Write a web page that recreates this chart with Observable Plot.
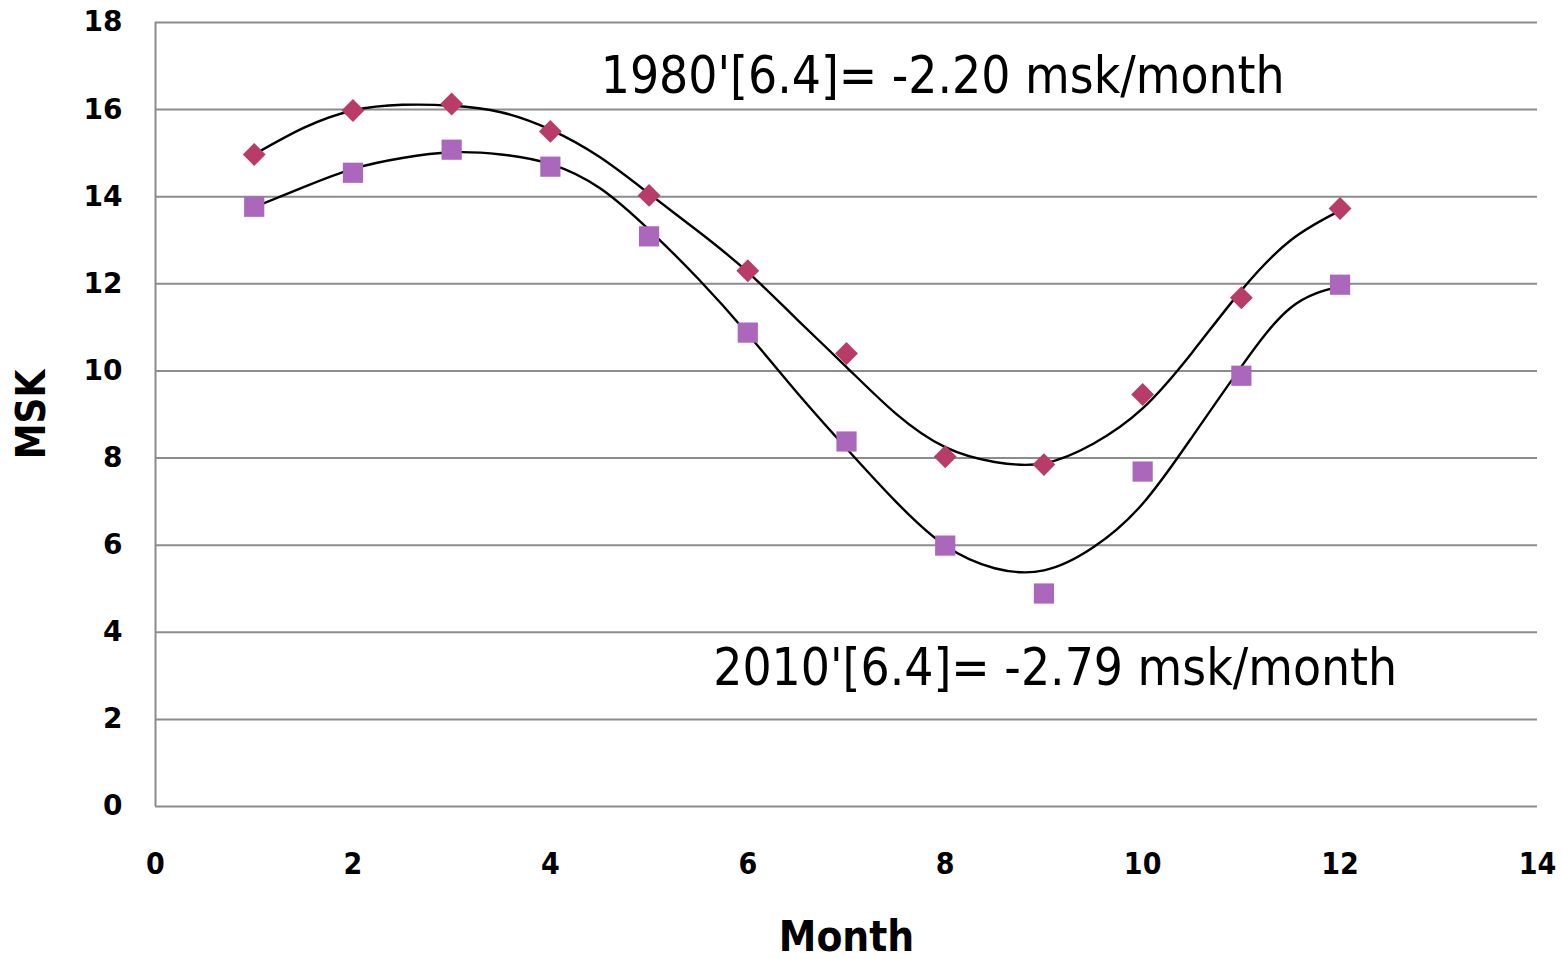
<!DOCTYPE html>
<html>
<head>
<meta charset="utf-8">
<script src="https://cdn.jsdelivr.net/npm/d3@7"></script>
<script src="https://cdn.jsdelivr.net/npm/@observablehq/plot@0.6"></script>
<style>
  html, body { margin: 0; padding: 0; background: #fff; }
  #chart svg { display: block; }
  g[aria-label="y-axis tick label"], g[aria-label="y-axis tick label"] text {
    font-family: "DejaVu Sans", sans-serif !important;
    font-weight: bold !important;
    font-size: 28px !important;
    fill: #000 !important;
  }
  g[aria-label="x-axis tick label"], g[aria-label="x-axis tick label"] text {
    font-family: "DejaVu Sans Condensed", "DejaVu Sans", sans-serif !important;
    font-weight: bold !important;
    font-size: 30px !important;
    fill: #000 !important;
  }
</style>
</head>
<body>
<div id="chart"></div>
<script>
// Months
const months = [1, 2, 3, 4, 5, 6, 7, 8, 9, 10, 11, 12];
// 1980' series (diamonds)
const msk1980 = [14.97, 15.98, 16.13, 15.5, 14.03, 12.3, 10.4, 8.03, 7.85, 9.46, 11.68, 13.73];
// 2010' series (squares)
const msk2010 = [13.77, 14.55, 15.08, 14.69, 13.09, 10.88, 8.38, 5.99, 4.89, 7.69, 9.89, 11.98];

// Trend lines
const trendX = [1, 1.5, 2, 2.5, 3, 3.5, 4, 4.5, 5, 5.5, 6, 6.5, 7, 7.5, 8, 8.5, 9, 9.5, 10, 10.5, 11, 11.5, 12];
const trend1980 = [14.97, 15.58, 15.98, 16.11, 16.09, 15.94, 15.54, 14.91, 14.07, 13.2, 12.27, 11.18, 10.09, 9.02, 8.25, 7.91, 7.88, 8.33, 9.14, 10.42, 11.85, 13.0, 13.68];
const trend2010 = [13.76, 14.22, 14.64, 14.89, 15.02, 14.97, 14.75, 14.2, 13.24, 12.11, 10.85, 9.5, 8.22, 7.0, 5.99, 5.47, 5.42, 5.95, 6.95, 8.48, 10.1, 11.45, 11.94];

// Tick labels
const xTicks = [0, 2, 4, 6, 8, 10, 12, 14];
const yTicks = [0, 2, 4, 6, 8, 10, 12, 14, 16, 18];

// Annotations
const annoLabels = ["1980'[6.4]= -2.20 msk/month", "2010'[6.4]= -2.79 msk/month"];
const annoX = [4.51, 5.65];
const annoY = [16.39, 2.78];

const pts1980 = months.map((m, i) => ({month: m, msk: msk1980[i]}));
const pts2010 = months.map((m, i) => ({month: m, msk: msk2010[i]}));
const tr1980 = trendX.map((x, i) => ({month: x, msk: trend1980[i]}));
const tr2010 = trendX.map((x, i) => ({month: x, msk: trend2010[i]}));
const annos = annoLabels.map((t, i) => ({text: t, x: annoX[i], y: annoY[i]}));

const gridColor = "#8c8c8c";

const chart = Plot.plot({
  width: 1563,
  height: 959,
  marginLeft: 155,
  marginRight: 26,
  marginTop: 22,
  marginBottom: 153,
  style: {background: "#fff", overflow: "visible"},
  x: {domain: [0, 14], ticks: xTicks, label: null},
  y: {domain: [0, 18], ticks: yTicks, label: null},
  marks: [
    Plot.gridY(yTicks, {stroke: gridColor, strokeWidth: 2, strokeOpacity: 1}),
    Plot.ruleX([0], {stroke: gridColor, strokeWidth: 2}),
    Plot.axisY(yTicks, {tickSize: 0, tickPadding: 33, label: null}),
    Plot.axisX(xTicks, {tickSize: 0, tickPadding: 46, label: null}),
    Plot.line(tr1980, {x: "month", y: "msk", stroke: "#000", strokeWidth: 2.4, curve: "natural"}),
    Plot.line(tr2010, {x: "month", y: "msk", stroke: "#000", strokeWidth: 2.4, curve: "natural"}),
    Plot.dot(pts2010, {x: "month", y: "msk", symbol: "square", r: 11.4, fill: "#ab67bb", stroke: "none"}),
    Plot.dot(pts1980, {x: "month", y: "msk", symbol: "diamond2", r: 10.3, fill: "#b83c67", stroke: "none"}),
    Plot.text(annos, {
      x: "x", y: "y", text: "text", textAnchor: "start", lineAnchor: "bottom",
      fontSize: 51, fontFamily: "DejaVu Sans Condensed", fill: "#000"
    }),
    Plot.text(["Month"], {
      frameAnchor: "bottom", dy: 144, lineAnchor: "bottom", textAnchor: "middle",
      fontSize: 42, fontWeight: "bold", fontFamily: "DejaVu Sans Condensed", fill: "#000"
    }),
    Plot.text(["MSK"], {
      frameAnchor: "left", dx: -123, rotate: -90, textAnchor: "middle", lineAnchor: "middle",
      fontSize: 40, fontWeight: "bold", fontFamily: "DejaVu Sans Condensed", fill: "#000"
    })
  ]
});
document.getElementById("chart").appendChild(chart);
</script>
</body>
</html>
